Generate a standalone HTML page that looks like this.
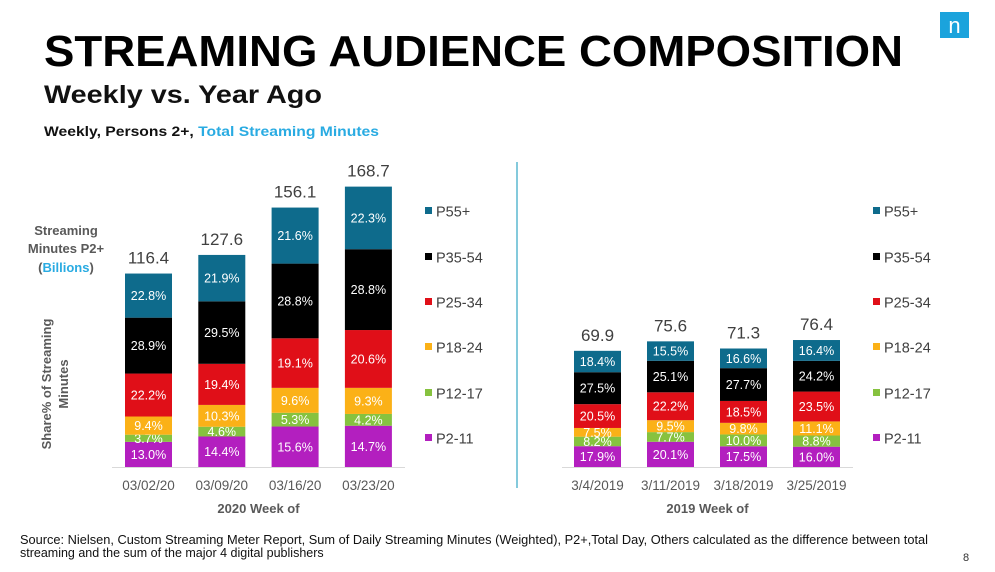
<!DOCTYPE html>
<html><head><meta charset="utf-8"><style>
html,body{margin:0;padding:0;background:#fff}
svg{display:block;font-family:"Liberation Sans",Arial,sans-serif}
</style></head><body>
<svg id="chart" width="995" height="572" viewBox="0 0 995 572" xmlns="http://www.w3.org/2000/svg">
<rect x="940" y="12" width="29" height="26" fill="#1ba3dc"/>
<text x="954.5" y="33" font-size="22" fill="#fff" text-anchor="middle">n</text>
<text x="44" y="66" font-size="44" font-weight="bold" textLength="859" lengthAdjust="spacingAndGlyphs">STREAMING AUDIENCE COMPOSITION</text>
<text x="44" y="103" font-size="25" font-weight="bold" textLength="278" lengthAdjust="spacingAndGlyphs" fill="#111">Weekly vs. Year Ago</text>
<text x="44" y="136" font-size="13.5" font-weight="bold" textLength="335" lengthAdjust="spacingAndGlyphs"><tspan fill="#111">Weekly, Persons 2+, </tspan><tspan fill="#29abe2">Total Streaming Minutes</tspan></text>
<text x="66" y="235" font-size="13" font-weight="bold" fill="#595959" text-anchor="middle">Streaming</text>
<text x="66" y="253" font-size="13" font-weight="bold" fill="#595959" text-anchor="middle">Minutes P2+</text>
<text x="66" y="272" font-size="13" font-weight="bold" fill="#595959" text-anchor="middle">(<tspan fill="#29abe2">Billions</tspan>)</text>
<text transform="translate(51,384) rotate(-90)" font-size="13" font-weight="bold" fill="#595959" text-anchor="middle">Share% of Streaming</text>
<text transform="translate(68,384) rotate(-90)" font-size="13" font-weight="bold" fill="#595959" text-anchor="middle">Minutes</text>
<line x1="517" y1="162" x2="517" y2="488" stroke="#5bb8d0" stroke-width="1.5"/>
<text x="20" y="544" font-size="12.5" fill="#111" textLength="908" lengthAdjust="spacingAndGlyphs">Source: Nielsen, Custom Streaming Meter Report, Sum of Daily Streaming Minutes (Weighted), P2+,Total Day, Others calculated as the difference between total</text>
<text x="20" y="557" font-size="12.5" fill="#111">streaming and the sum of the major 4 digital publishers</text>
<text x="963" y="561" font-size="11" fill="#333">8</text>
<g id="plots"></g>
</svg>
<script>
const series = ["P2-11","P12-17","P18-24","P25-34","P35-54","P55+"];
const colors = ["#b31fbf","#86c23f","#fbb117","#e00f18","#000000","#0e6b8c"];
const cats2020 = ["03/02/20","03/09/20","03/16/20","03/23/20"];
const totals2020 = [116.4,127.6,156.1,168.7];
const p2_11_2020 = [13.0,14.4,15.6,14.7];
const p12_17_2020 = [3.7,4.6,5.3,4.2];
const p18_24_2020 = [9.4,10.3,9.6,9.3];
const p25_34_2020 = [22.2,19.4,19.1,20.6];
const p35_54_2020 = [28.9,29.5,28.8,28.8];
const p55_2020 = [22.8,21.9,21.6,22.3];
const cats2019 = ["3/4/2019","3/11/2019","3/18/2019","3/25/2019"];
const totals2019 = [69.9,75.6,71.3,76.4];
const p2_11_2019 = [17.9,20.1,17.5,16.0];
const p12_17_2019 = [8.2,7.7,10.0,8.8];
const p18_24_2019 = [7.5,9.5,9.8,11.1];
const p25_34_2019 = [20.5,22.2,18.5,23.5];
const p35_54_2019 = [27.5,25.1,27.7,24.2];
const p55_2019 = [18.4,15.5,16.6,16.4];

const NS="http://www.w3.org/2000/svg";
const root=document.getElementById('plots');
const baseY=467, pxPerB=1.662;
function yScale(v){return baseY - v*pxPerB;}
function mk(tag,attrs,parent){const e=document.createElementNS(NS,tag);for(const k in attrs)e.setAttribute(k,attrs[k]);(parent||root).appendChild(e);return e;}

function panel(key,cats,totals,segs,x0,step,axisX1,axisX2,legX,title){
  const g=mk('g',{});
  
  
  const ax=mk('line',{x1:axisX1,y1:baseY+0.5,x2:axisX2,y2:baseY+0.5,stroke:'#d9d9d9','stroke-width':1},g);
  
  
  const bw=47;
  cats.forEach((c,i)=>{
    const x=x0+i*step;
    const vals=segs.map(s=>s[i]);
    const sum=vals.reduce((a,b)=>a+b,0);
    const H=totals[i]*pxPerB;
    let y=baseY;
    vals.forEach((v,j)=>{
      const h=H*v/sum;
      const r=mk('rect',{x:x,y:y-h,width:bw,height:h,fill:colors[j]},g);
      
      
      const t=mk('text',{x:x+bw/2,y:y-h/2+4.5,'font-size':12.5,fill:'#fff','text-anchor':'middle'},g);
      
      
      t.textContent=v.toFixed(1)+'%';
      y-=h;
    });
    const tt=mk('text',{x:x+bw/2,y:yScale(totals[i])-10,'font-size':17,fill:'#404040','text-anchor':'middle'},g);
    
    
    tt.textContent=totals[i].toFixed(1);
    const cl=mk('text',{x:x+bw/2,y:490,'font-size':13.5,fill:'#595959','text-anchor':'middle'},g);
    
    
    cl.textContent=c;
  });
  const at=mk('text',{x:(axisX1+axisX2)/2,y:513,'font-size':13,'font-weight':'bold',fill:'#595959','text-anchor':'middle'},g);
  
  
  at.textContent=title;
  const legY=[438,393,347,302,257,211];
  series.forEach((s,j)=>{
    const sq=mk('rect',{x:legX,y:legY[j]-4,width:7,height:7,fill:colors[j]},g);
    
    
    const lt=mk('text',{x:legX+11,y:legY[j]+5.5,'font-size':14.5,fill:'#404040'},g);
    
    
    lt.textContent=s;
  });
}
panel('2020',cats2020,totals2020,[p2_11_2020,p12_17_2020,p18_24_2020,p25_34_2020,p35_54_2020,p55_2020],125,73.3,112,405,425,'2020 Week of');
panel('2019',cats2019,totals2019,[p2_11_2019,p12_17_2019,p18_24_2019,p25_34_2019,p35_54_2019,p55_2019],574,73,562,853,873,'2019 Week of');
</script>
</body></html>
